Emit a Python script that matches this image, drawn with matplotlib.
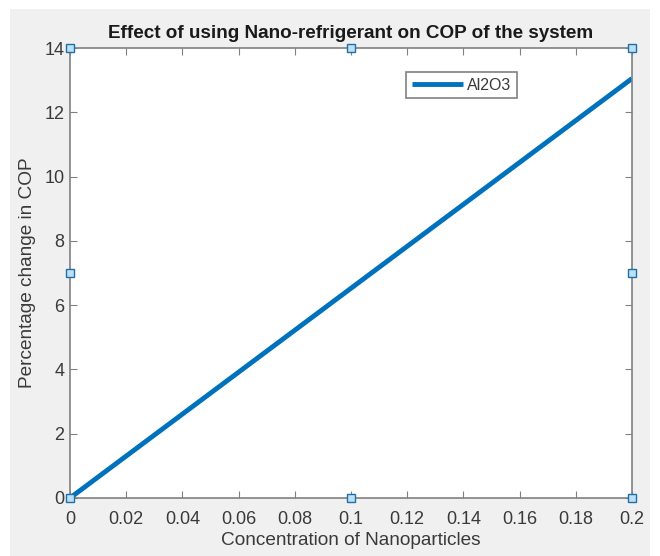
import matplotlib
matplotlib.use("Agg")
import matplotlib.pyplot as plt
from matplotlib.patches import Rectangle

concentration = [0.0, 0.2]
cop_change = [0.0, 13.05]
series_name = "Al2O3"
xticks = [0, 0.02, 0.04, 0.06, 0.08, 0.1, 0.12, 0.14, 0.16, 0.18, 0.2]
xticklabels = ["0", "0.02", "0.04", "0.06", "0.08", "0.1", "0.12", "0.14", "0.16", "0.18", "0.2"]
yticks = [0, 2, 4, 6, 8, 10, 12, 14]
handle_pos = [(0, 0), (0.5, 0), (1, 0), (0, 0.5), (1, 0.5), (0, 1), (0.5, 1), (1, 1)]

plt.rcParams['font.family'] = ['Liberation Sans', 'DejaVu Sans']

fig = plt.figure(figsize=(6.6, 5.56), dpi=100)
fig.patch.set_facecolor('white')
fig.patches.append(Rectangle((10/660, 0), 640/660, 1 - 9/556, transform=fig.transFigure,
                             facecolor='#f0f0f0', edgecolor='none', zorder=-10))

ax = fig.add_axes([70/660, 1 - 498/556, 562/660, 450/556])
ax.set_facecolor('white')
ax.plot(concentration, cop_change, color='#0072BD', lw=3.5, label=series_name,
        solid_capstyle='butt')
ax.set_xlim(0, 0.2)
ax.set_ylim(0, 14)
ax.set_xticks(xticks)
ax.set_xticklabels(xticklabels)
ax.set_yticks(yticks)
ax.tick_params(direction='in', length=5, width=0.8, color='#808080', labelcolor='#3a3a3a',
               labelsize=13, top=True, right=True)
ax.tick_params(axis='x', pad=9)
ax.tick_params(axis='y', pad=4)
for s in ax.spines.values():
    s.set_color('#808080')
    s.set_linewidth(1.2)

ax.set_title("Effect of using Nano-refrigerant on COP of the system", fontsize=13.6,
             fontweight='bold', color='#1a1a1a', pad=7)
ax.set_xlabel("Concentration of Nanoparticles", fontsize=13.7, color='#3a3a3a', labelpad=3)
ax.set_ylabel("Percentage change in COP", fontsize=13.7, color='#3a3a3a', labelpad=6)

leg = ax.legend(loc='upper left', bbox_to_anchor=(328/562, 1 - 16/450), fontsize=11.5,
                fancybox=False, edgecolor='#808080', framealpha=1, handlelength=3.2,
                borderpad=0.35, handletextpad=0.25)
leg.get_frame().set_linewidth(1.2)
for t in leg.get_texts():
    t.set_color('#3a3a3a')

for (px, py) in handle_pos:
    ax.plot(px, py, marker='s', ms=6, mfc='#bde0f7', mec='#1f6fa8', mew=1.0,
            transform=ax.transAxes, clip_on=False, zorder=10)

fig.savefig("out.png", dpi=100, facecolor=fig.get_facecolor())
